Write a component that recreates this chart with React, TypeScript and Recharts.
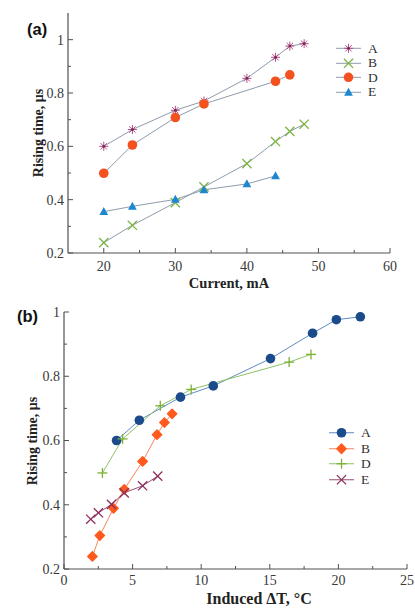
import React from 'react';
import { LineChart, Line, XAxis, YAxis, Legend } from 'recharts';

// ---------- data ----------
const seriesNames = ['A', 'B', 'D', 'E'];

// (a) Rising time vs current (mA)
const currentA = [20, 24, 30, 34, 40, 44, 46, 48];
const riseA = [0.6, 0.663, 0.735, 0.77, 0.855, 0.934, 0.976, 0.985];
const currentB = [20, 24, 30, 34, 40, 44, 46, 48];
const riseB = [0.239, 0.304, 0.389, 0.448, 0.535, 0.618, 0.656, 0.683];
const currentD = [20, 24, 30, 34, 44, 46];
const riseD = [0.499, 0.605, 0.708, 0.759, 0.844, 0.868];
const currentE = [20, 24, 30, 34, 40, 44];
const riseE = [0.355, 0.375, 0.401, 0.437, 0.459, 0.489];

// (b) Rising time vs induced temperature rise (°C)
const deltaA = [3.83, 5.49, 8.49, 10.88, 15.05, 18.12, 19.85, 21.6];
const deltaB = [2.07, 2.61, 3.61, 4.39, 5.73, 6.78, 7.32, 7.88];
const deltaD = [2.8, 4.27, 7.02, 9.27, 16.41, 18.0];
const deltaE = [1.95, 2.51, 3.46, 4.39, 5.73, 6.83];

// tick values
const xTicksA = [20, 25, 30, 35, 40, 45, 50, 55, 60];
const xMajorA = [20, 30, 40, 50, 60];
const yTicksA = [0.2, 0.3, 0.4, 0.5, 0.6, 0.7, 0.8, 0.9, 1];
const yMajor = [0.2, 0.4, 0.6, 0.8, 1];
const xTicksB = [0, 2.5, 5, 7.5, 10, 12.5, 15, 17.5, 20, 22.5, 25];
const xMajorB = [0, 5, 10, 15, 20, 25];
const yTicksB = [0.2, 0.3, 0.4, 0.5, 0.6, 0.7, 0.8, 0.9, 1];

const toPoints = (xs: number[], ys: number[]) => xs.map((x, i) => ({ x, y: ys[i] }));

// ---------- styles ----------
const SERIF = '"Liberation Serif", "Times New Roman", serif';
const SANS = '"Liberation Sans", Arial, sans-serif';
const AXIS = '#505050';
const TICKTXT = '#3a3a3a';

type Shape = 'star' | 'x' | 'circle' | 'triangle' | 'diamond' | 'plus';

function Marker({ shape, cx, cy, color }: { shape: Shape; cx: number; cy: number; color: string }) {
  if (cx == null || cy == null || isNaN(cx) || isNaN(cy)) return null;
  switch (shape) {
    case 'star': {
      const r = 4.5;
      const d = r * 0.7071;
      return (
        <g stroke={color} strokeWidth={1}>
          <line x1={cx - r} y1={cy} x2={cx + r} y2={cy} />
          <line x1={cx} y1={cy - r} x2={cx} y2={cy + r} />
          <line x1={cx - d} y1={cy - d} x2={cx + d} y2={cy + d} />
          <line x1={cx - d} y1={cy + d} x2={cx + d} y2={cy - d} />
          <circle cx={cx} cy={cy} r={1.3} fill="#7a2550" stroke="none" />
        </g>
      );
    }
    case 'x': {
      const r = 4.6;
      return (
        <g stroke={color} strokeWidth={1.3}>
          <line x1={cx - r} y1={cy - r} x2={cx + r} y2={cy + r} />
          <line x1={cx - r} y1={cy + r} x2={cx + r} y2={cy - r} />
        </g>
      );
    }
    case 'plus': {
      const r = 5;
      return (
        <g stroke={color} strokeWidth={1.3}>
          <line x1={cx - r} y1={cy} x2={cx + r} y2={cy} />
          <line x1={cx} y1={cy - r} x2={cx} y2={cy + r} />
        </g>
      );
    }
    case 'circle':
      return <circle cx={cx} cy={cy} r={4.8} fill={color} />;
    case 'triangle':
      return (
        <polygon
          points={`${cx},${cy - 4.6} ${cx - 4.4},${cy + 3.4} ${cx + 4.4},${cy + 3.4}`}
          fill={color}
        />
      );
    case 'diamond':
      return (
        <polygon
          points={`${cx},${cy - 4.6} ${cx + 4.6},${cy} ${cx},${cy + 4.6} ${cx - 4.6},${cy}`}
          fill={color}
          stroke={color}
          strokeWidth={1.5}
          strokeLinejoin="round"
        />
      );
  }
  return null;
}

const makeXTick = (majors: number[], labelOffset: number) => (props: any) => {
  const { x, y, payload } = props;
  const major = majors.includes(payload.value);
  return (
    <g>
      <line x1={x} x2={x} y1={y} y2={y - (major ? 5 : 3)} stroke={AXIS} strokeWidth={1} />
      {major && (
        <text x={x} y={y + labelOffset} textAnchor="middle" fontSize={14} fill={TICKTXT} fontFamily={SERIF}>
          {payload.value}
        </text>
      )}
    </g>
  );
};

const makeYTick = (majors: number[]) => (props: any) => {
  const { x, y, payload } = props;
  const major = majors.includes(payload.value);
  return (
    <g>
      <line x1={x} x2={x + (major ? 5 : 3)} y1={y} y2={y} stroke={AXIS} strokeWidth={1} />
      {major && (
        <text x={x - 4} y={y} dy="0.35em" textAnchor="end" fontSize={14} fill={TICKTXT} fontFamily={SERIF}>
          {payload.value}
        </text>
      )}
    </g>
  );
};

type SeriesCfg = {
  name: string;
  data: { x: number; y: number }[];
  shape: Shape;
  marker: string;
  line: string;
};

const seriesA: SeriesCfg[] = [
  { name: seriesNames[0], data: toPoints(currentA, riseA), shape: 'star', marker: '#b24d86', line: '#8e9cad' },
  { name: seriesNames[1], data: toPoints(currentB, riseB), shape: 'x', marker: '#7bb443', line: '#8e9cad' },
  { name: seriesNames[2], data: toPoints(currentD, riseD), shape: 'circle', marker: '#f4511e', line: '#8e9cad' },
  { name: seriesNames[3], data: toPoints(currentE, riseE), shape: 'triangle', marker: '#1f87cf', line: '#8e9cad' },
];

const seriesB: SeriesCfg[] = [
  { name: seriesNames[0], data: toPoints(deltaA, riseA), shape: 'circle', marker: '#1b4b8a', line: '#5f8cc4' },
  { name: seriesNames[1], data: toPoints(deltaB, riseB), shape: 'diamond', marker: '#ff5a1e', line: '#f6845c' },
  { name: seriesNames[2], data: toPoints(deltaD, riseD), shape: 'plus', marker: '#7bb035', line: '#8fc265' },
  { name: seriesNames[3], data: toPoints(deltaE, riseE), shape: 'x', marker: '#8c2e5d', line: '#9b4d74' },
];

const makeLegend = (series: SeriesCfg[], rowH: number) => () => (
  <div style={{ fontFamily: SERIF, fontSize: 13.5, color: '#333' }}>
    {series.map((s) => (
      <div key={s.name} style={{ display: 'flex', alignItems: 'center', height: rowH }}>
        <svg width={27} height={rowH} style={{ display: 'block' }}>
          <line x1={1} x2={26} y1={rowH / 2} y2={rowH / 2} stroke={s.line} strokeWidth={1} />
          <Marker shape={s.shape} cx={13.5} cy={rowH / 2} color={s.marker} />
        </svg>
        <span style={{ marginLeft: 6, lineHeight: 1 }}>{s.name}</span>
      </div>
    ))}
  </div>
);

function renderLines(series: SeriesCfg[], prefix: string) {
  return series.map((s) => (
    <Line
      key={s.name}
      name={s.name}
      data={s.data}
      dataKey="y"
      type="linear"
      stroke={s.line}
      strokeWidth={1}
      isAnimationActive={false}
      activeDot={false}
      dot={(p: any) => (
        <Marker key={`${prefix}-${s.name}-${p.index}`} shape={s.shape} cx={p.cx} cy={p.cy} color={s.marker} />
      )}
    />
  ));
}

export default function App() {
  return (
    <div style={{ position: 'absolute', left: 0, top: 0, width: 415, height: 608, background: '#fff', overflow: 'hidden' }}>
      {/* Panel (a) */}
      <div style={{ position: 'absolute', left: 0, top: 0 }}>
        <LineChart width={415} height={300} margin={{ top: 13, right: 25, bottom: 11, left: 0 }}>
          <XAxis
            dataKey="x"
            type="number"
            domain={[15, 60]}
            allowDataOverflow
            ticks={xTicksA}
            interval={0}
            tickSize={0}
            tickMargin={0}
            height={36}
            tick={makeXTick(xMajorA, 18)}
            axisLine={{ stroke: AXIS, strokeWidth: 1.2 }}
            tickLine={false}
          />
          <XAxis
            xAxisId="top"
            orientation="top"
            dataKey="x"
            type="number"
            domain={[15, 60]}
            height={0}
            tick={false}
            tickLine={false}
            axisLine={{ stroke: AXIS, strokeWidth: 1.2 }}
          />
          <YAxis
            type="number"
            domain={[0.2, 1.1]}
            allowDataOverflow
            ticks={yTicksA}
            interval={0}
            tickSize={0}
            tickMargin={0}
            width={68}
            tick={makeYTick(yMajor)}
            axisLine={{ stroke: AXIS, strokeWidth: 1.2 }}
            tickLine={false}
          />
          <YAxis
            yAxisId="right"
            orientation="right"
            type="number"
            domain={[0.2, 1.1]}
            width={0}
            tick={false}
            tickLine={false}
            axisLine={{ stroke: AXIS, strokeWidth: 1.2 }}
          />
          <Legend
            layout="vertical"
            align="center"
            verticalAlign="middle"
            content={makeLegend(seriesA, 14.6)}
            wrapperStyle={{ position: 'absolute', top: 41, left: 335, width: 60 }}
          />
          {renderLines(seriesA, 'a')}
        </LineChart>
      </div>

      {/* Panel (b) */}
      <div style={{ position: 'absolute', left: 0, top: 300 }}>
        <LineChart width={415} height={308} margin={{ top: 12, right: 8, bottom: 0, left: 0 }}>
          <XAxis
            dataKey="x"
            type="number"
            domain={[0, 25]}
            allowDataOverflow
            ticks={xTicksB}
            interval={0}
            tickSize={0}
            tickMargin={0}
            height={39}
            tick={makeXTick(xMajorB, 16)}
            axisLine={{ stroke: AXIS, strokeWidth: 1.2 }}
            tickLine={false}
          />
          <XAxis
            xAxisId="top"
            orientation="top"
            dataKey="x"
            type="number"
            domain={[0, 25]}
            height={0}
            tick={false}
            tickLine={false}
            axisLine={{ stroke: AXIS, strokeWidth: 1.2 }}
          />
          <YAxis
            type="number"
            domain={[0.2, 1]}
            allowDataOverflow
            ticks={yTicksB}
            interval={0}
            tickSize={0}
            tickMargin={0}
            width={64}
            tick={makeYTick(yMajor)}
            axisLine={{ stroke: AXIS, strokeWidth: 1.2 }}
            tickLine={false}
          />
          <YAxis
            yAxisId="right"
            orientation="right"
            type="number"
            domain={[0.2, 1]}
            width={0}
            tick={false}
            tickLine={false}
            axisLine={{ stroke: AXIS, strokeWidth: 1.2 }}
          />
          <Legend
            layout="vertical"
            align="center"
            verticalAlign="middle"
            content={makeLegend(seriesB, 15.5)}
            wrapperStyle={{ position: 'absolute', top: 125, left: 328, width: 60 }}
          />
          {renderLines(seriesB, 'b')}
        </LineChart>
      </div>

      {/* titles and panel labels */}
      <svg width={415} height={608} style={{ position: 'absolute', left: 0, top: 0, pointerEvents: 'none' }}>
        <text x={27} y={35} fontFamily={SANS} fontWeight="bold" fontSize={16.5} fill="#111">(a)</text>
        <text x={17} y={322} fontFamily={SANS} fontWeight="bold" fontSize={16.5} fill="#111">(b)</text>
        <text x={229} y={288} textAnchor="middle" fontFamily={SERIF} fontWeight="bold" fontSize={14.5} fill="#222">
          Current, mA
        </text>
        <text
          x={0}
          y={0}
          transform="translate(43,133) rotate(-90)"
          textAnchor="middle"
          fontFamily={SERIF}
          fontWeight="bold"
          fontSize={14}
          fill="#222"
        >
          Rising time, μs
        </text>
        <text
          x={0}
          y={0}
          transform="translate(37,441) rotate(-90)"
          textAnchor="middle"
          fontFamily={SERIF}
          fontWeight="bold"
          fontSize={14}
          fill="#222"
        >
          Rising time, μs
        </text>
        <text x={259} y={604} textAnchor="middle" fontFamily={SERIF} fontWeight="bold" fontSize={16} fill="#222">
          Induced ΔT, °C
        </text>
      </svg>
    </div>
  );
}
